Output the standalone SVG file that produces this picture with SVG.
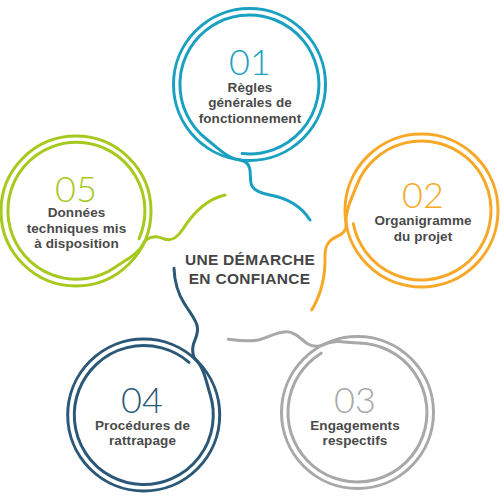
<svg xmlns="http://www.w3.org/2000/svg" width="500" height="500" viewBox="0 0 500 500">
<style>
.ring{fill:none;stroke-width:3;stroke-linecap:round;stroke-linejoin:round}
.num{font-family:Lato,"Open Sans","Liberation Sans",sans-serif;font-weight:300;font-size:36px;text-anchor:middle}
.lbl{font-family:"Liberation Sans",Arial,sans-serif;font-weight:bold;font-size:13.5px;fill:#4a4a4a;text-anchor:middle;letter-spacing:0.1px}
.ctr{font-family:"Liberation Sans",Arial,sans-serif;font-weight:bold;font-size:15.5px;fill:#454545;text-anchor:middle;letter-spacing:0.3px}
.c1{stroke:#1aa0c0}.c2{stroke:#f8a827}.c3{stroke:#a8a8a8}.c4{stroke:#2c5878}.c5{stroke:#a6c91e}
</style>
<rect width="500" height="500" fill="#ffffff"/>
<g id="connectors">
<path class="ring c1" d="M238.9,159.8 C244,160.5 248.5,163 249.8,169 C251,175 249.5,181 252,186 C255,191.5 262,193.5 270,195 C287,198 301,206 310,220"/>
<path class="ring c2" d="M346.2,224.9 C346.5,231 342,234.5 336,237 C328,240.5 325,246 325,256 C325.5,275 322,293 311.7,310"/>
<path class="ring c3" d="M323,344.8 C318,347 313,347 307,343.5 C300,338 294,331.5 286,331.8 C276,332.3 268,337.5 258,340 C248,342 238,340.5 228.3,339.3"/>
<path class="ring c4" d="M195.2,359.1 C192.5,355.5 192,349 193.5,344 C195,339 198,335 197.5,328 C197,320 190,313 184,303 C177,292 174.5,281 174,268.3"/>
<path class="ring c5" d="M143.7,243.2 C145.5,239.4 150,237 156,236.8 C161,236.7 164,240 169,239.8 C175,239.5 179,235 183,229 C190,218 203,200 225,195"/>
</g>
<g id="node1">
<circle class="ring c1" cx="249.5" cy="84.5" r="76"/>
<path class="ring c1" d="M242.2,153.6 A69.5 69.5 0 1 0 206.7,139.3 C216.9,147.3 227,158.1 238.9,159.8"/>
<text class="num" x="250" y="75" fill="#1aa0c0">01</text>
<text class="lbl" x="250" y="91.5">Règles</text>
<text class="lbl" x="250" y="107">générales de</text>
<text class="lbl" x="250" y="122.5">fonctionnement</text>
</g>
<g id="node2">
<circle class="ring c2" cx="421.5" cy="210.5" r="76.5"/>
<path class="ring c2" d="M353.3,223.8 A69.5 69.5 0 1 0 356.6,185.6 C352,197.7 344.5,212 346.2,224.9"/>
<text class="num" x="423" y="208" fill="#f8a827">02</text>
<text class="lbl" x="423" y="225">Organigramme</text>
<text class="lbl" x="423" y="240.5">du projet</text>
</g>
<g id="node3">
<circle class="ring c3" cx="357.5" cy="412.5" r="76"/>
<path class="ring c3" d="M321.2,353.2 A69.5 69.5 0 1 0 358.1,343 C345.1,342.9 334.6,338.9 323,344.8"/>
<text class="num" x="355" y="413" fill="#a8a8a8">03</text>
<text class="lbl" x="355" y="429.5">Engagements</text>
<text class="lbl" x="355" y="445">respectifs</text>
</g>
<g id="node4">
<circle class="ring c4" cx="143.7" cy="415" r="76"/>
<path class="ring c4" d="M189,362.3 A69.5 69.5 0 1 0 210.1,394.3 C206.2,381.9 204,367.2 195.2,359.1"/>
<text class="num" x="142" y="413" fill="#2c5878">04</text>
<text class="lbl" x="142.5" y="429.5">Procédures de</text>
<text class="lbl" x="142.5" y="445">rattrapage</text>
</g>
<g id="node5">
<circle class="ring c5" cx="76" cy="211" r="75"/>
<path class="ring c5" d="M139,238.6 A68.5 68.5 0 1 0 114.9,267.4 C125.6,260 138.6,254 143.7,243.2"/>
<text class="num" x="76" y="202" fill="#a6c91e">05</text>
<text class="lbl" x="76.5" y="217">Données</text>
<text class="lbl" x="76.5" y="232.5">techniques mis</text>
<text class="lbl" x="76.5" y="248">à disposition</text>
</g>
<g id="center">
<text class="ctr" x="250" y="265">UNE DÉMARCHE</text>
<text class="ctr" x="249.5" y="284">EN CONFIANCE</text>
</g>
</svg>
